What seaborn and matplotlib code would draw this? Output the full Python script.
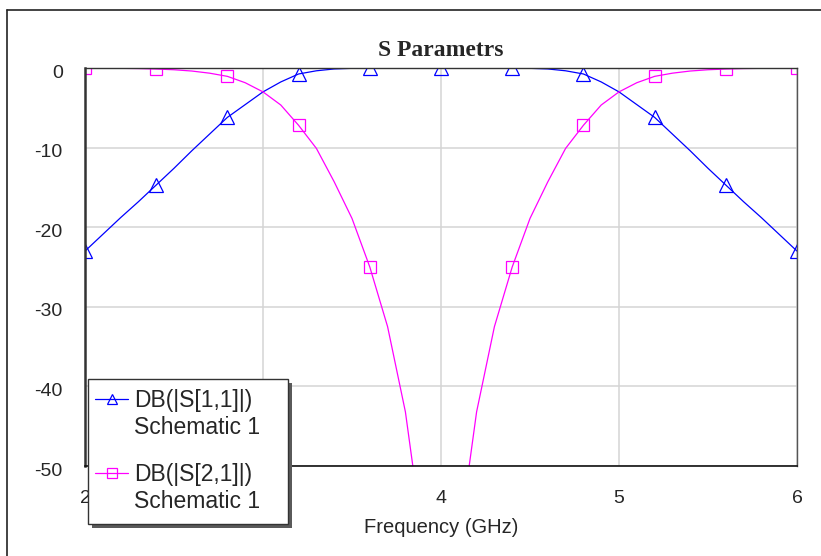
import matplotlib
matplotlib.use("Agg")
import matplotlib.pyplot as plt
import matplotlib.transforms as mtransforms
from matplotlib.patches import Rectangle
from matplotlib.lines import Line2D
import pandas as pd
import seaborn as sns

# Data (dB vs GHz) --------------------------------

freq = [2.0, 2.1, 2.2, 2.3, 2.4, 2.5, 2.6, 2.7, 2.8, 2.9,
        3.0, 3.1, 3.2, 3.3, 3.4, 3.5, 3.6, 3.7, 3.8, 3.9,
        4.0, 4.1, 4.2, 4.3, 4.4, 4.5, 4.6, 4.7, 4.8, 4.9,
        5.0, 5.1, 5.2, 5.3, 5.4, 5.5, 5.6, 5.7, 5.8, 5.9, 6.0]

s11_db = [-23.0, -20.9, -18.8, -16.8, -14.7, -12.6, -10.4, -8.3, -6.2, -4.6,
          -3.0, -1.75, -0.75, -0.35, -0.12, -0.04, -0.02, -0.01, -0.01, -0.01,
          -0.01, -0.01, -0.01, -0.01, -0.02, -0.04, -0.12, -0.35, -0.75, -1.75,
          -3.0, -4.6, -6.2, -8.3, -10.4, -12.6, -14.7, -16.8, -18.8, -20.9, -23.0]

s21_db = [-0.01, -0.02, -0.04, -0.07, -0.13, -0.22, -0.38, -0.65, -1.05, -1.85,
          -3.0, -4.65, -7.2, -10.1, -14.3, -18.9, -25.0, -32.5, -43.2, -59.5,
          -75.0, -59.5, -43.2, -32.5, -25.0, -18.9, -14.3, -10.1, -7.2, -4.65,
          -3.0, -1.85, -1.05, -0.65, -0.38, -0.22, -0.13, -0.07, -0.04, -0.02, -0.01]

x_ticks = [2, 3, 4, 5, 6]
x_tick_labels = ["2", "3", "4", "5", "6"]
y_ticks = [0, -10, -20, -30, -40, -50]
y_tick_labels = ["0", "-10", "-20", "-30", "-40", "-50"]

legend_names = ["DB(|S[1,1]|)", "DB(|S[2,1]|)"]
legend_sub = "Schematic 1"

df = pd.DataFrame({"freq": freq, "s11": s11_db, "s21": s21_db})

# Style ---------

sns.set_theme(style="white")
plt.rcParams["font.family"] = ["Liberation Sans", "DejaVu Sans"]

W, H = 821, 556
def fx(px):
    return px / W
def fy(py):
    return 1 - py / H

fig = plt.figure(figsize=(W / 100, H / 100), dpi=100)
ax = fig.add_axes([fx(85), fy(466), (797 - 85) / W, (466 - 68) / H])

# Curves, markers every 0.4 GHz ------

sns.lineplot(data=df, x="freq", y="s11", ax=ax, color="#0000ff", lw=0.9,
             marker="^", markevery=4, ms=9.5, mfc="none", mec="#0000ff", mew=0.9)
sns.lineplot(data=df, x="freq", y="s21", ax=ax, color="#ff00ff", lw=0.9,
             marker="s", markevery=4, ms=9, mfc="none", mec="#ff00ff", mew=0.9)

ax.set_xlim(2, 6)
ax.set_ylim(-50, 0)
ax.set_xticks(x_ticks)
ax.set_xticklabels(x_tick_labels)
ax.set_yticks(y_ticks)
ax.set_yticklabels(y_tick_labels)
ax.tick_params(axis="x", length=0, pad=17, labelsize=14)
ax.tick_params(axis="y", length=0, pad=16, labelsize=14)

# the "3" label is covered by the legend box in the original
ax.get_xticklabels()[1].set_visible(False)

# y labels sit a few px under their grid line in the original
shift = mtransforms.ScaledTranslation(0, -3 / 100, fig.dpi_scale_trans)
for lab in ax.get_yticklabels():
    lab.set_transform(lab.get_transform() + shift)

ax.grid(True, color="#d4d4d4", lw=1.1)
ax.set_axisbelow(True)

ax.spines["left"].set(color="#333333", lw=1.8)
ax.spines["bottom"].set(color="#111111", lw=1.2)
ax.spines["top"].set(color="#333333", lw=1.0)
ax.spines["right"].set(color="#555555", lw=1.0)

ax.set_title("S Parametrs", fontsize=17, fontweight="bold",
             family=["Liberation Serif", "DejaVu Serif"], pad=9)
ax.set_xlabel("Frequency (GHz)", fontsize=14.5, labelpad=8)
ax.set_ylabel("")

# Outer frame of the graph window ------

fig.add_artist(Line2D([fx(7), fx(7)], [0, fy(10)], color="#222222", lw=1.2))
fig.add_artist(Line2D([fx(7), 1], [fy(10), fy(10)], color="#222222", lw=1.2))

# Legend box drawn by hand (handle sits on first line of each label) ------

box_w, box_h = 200 / W, 145 / H
fig.add_artist(Rectangle((fx(92), fy(528)), box_w, box_h, transform=fig.transFigure,
                         fc="#5a5a5a", ec="none"))
fig.add_artist(Rectangle((fx(88), fy(524)), box_w, box_h, transform=fig.transFigure,
                         fc="white", ec="#333333", lw=1.0))

colors = ["#0000ff", "#ff00ff"]
markers = ["^", "s"]
rows = [399, 473]
for name, c, m, yy in zip(legend_names, colors, markers, rows):
    fig.add_artist(Line2D([fx(95), fx(128)], [fy(yy), fy(yy)], color=c, lw=0.9))
    fig.add_artist(Line2D([fx(111.5)], [fy(yy)], marker=m, ms=7, mfc="none", mec=c, mew=0.9))
    fig.text(fx(134), fy(yy + 1), name, va="center", ha="left", fontsize=16.5)
    fig.text(fx(134), fy(yy + 29), legend_sub, va="center", ha="left", fontsize=16.5)

fig.savefig("out.png", dpi=100)
